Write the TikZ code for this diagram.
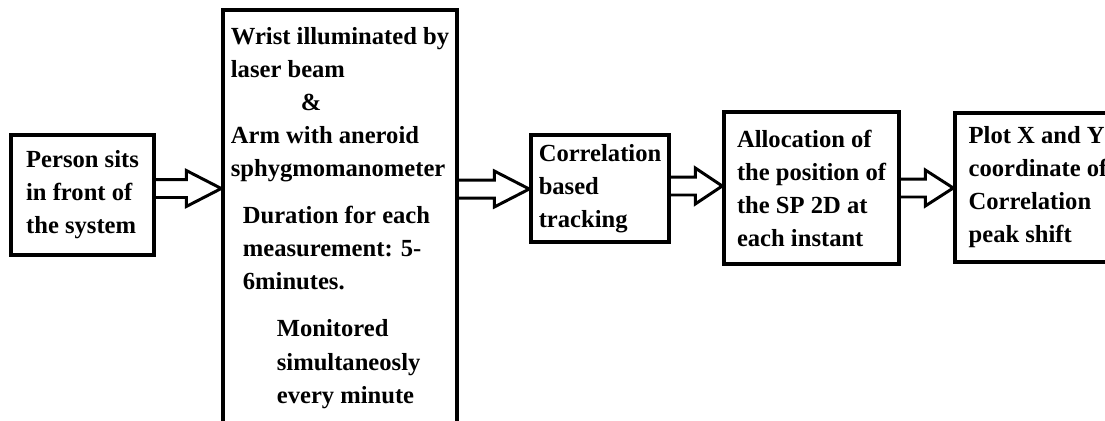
\documentclass[tikz,border=0pt]{standalone}
\usepackage{fontspec}
\setmainfont{Liberation Serif}
\usepackage{tikz}
\usetikzlibrary{calc, positioning}

\tikzset{
    stage/.style={draw, line width=2pt, align=left, inner sep=0pt,
        font=\fontsize{14}{18.8}\selectfont\bfseries},
    % open block arrow: shaft starts at the box edge, tip touches the next box
    hollow/.style={draw, line width=1.7pt, line join=miter,
        to path={let \p1=(\tikztostart), \p2=(\tikztotarget) in
            (\x1,\y1+0.18cm) -- (\x2-#1,\y1+0.18cm) -- (\x2-#1,\y1+0.36cm)
            -- (\x2,\y1) -- (\x2-#1,\y1-0.36cm) -- (\x2-#1,\y1-0.18cm)
            -- (\x1,\y1-0.18cm)}},
    hollow/.default=0.7cm
}

\begin{document}
\begin{tikzpicture}[x=0.02cm, y=-0.02cm]
    \useasboundingbox (0,0) rectangle (1105,420);
    \clip (0,0) rectangle (1105,420);

    \node[stage, minimum width=2.86cm, minimum height=2.4cm] (person) at (82.5,195)
        {Person sits\\in front of\\the system};
    \node[stage, minimum width=4.68cm, minimum height=8.32cm] (setup) at (340,218)
        {Wrist illuminated by\\laser beam\\\hspace*{1.4cm}\&\\Arm with aneroid\\sphygmomanometer\\[0.28cm]
         \hspace*{0.24cm}Duration for each\\\hspace*{0.24cm}measurement: 5-\\\hspace*{0.24cm}6minutes.\\[0.28cm]
         \hspace*{0.92cm}Monitored\\\hspace*{0.92cm}simultaneosly\\\hspace*{0.92cm}every minute};
    \node[stage, minimum width=2.76cm, minimum height=2.14cm] (track) at (600,188.5)
        {Correlation\\based\\tracking};
    \node[stage, minimum width=3.5cm, minimum height=3.04cm] (alloc) at (811.5,188)
        {Allocation of\\the position of\\the SP 2D at\\each instant};
    \node[stage, minimum width=3.32cm, minimum height=2.98cm] (plot) at (1038,187.5)
        {Plot X and Y\\coordinate of\\Correlation\\peak shift};

    \draw[hollow] ([yshift=0.13cm]person.east) to (setup.west);
    \draw[hollow] ([yshift=0.58cm]setup.east) to (track.west);
    \draw[hollow=0.54cm] ([yshift=0.05cm]track.east) to (alloc.west);
    \draw[hollow=0.56cm] (alloc.east) to (plot.west);
\end{tikzpicture}
\end{document}
